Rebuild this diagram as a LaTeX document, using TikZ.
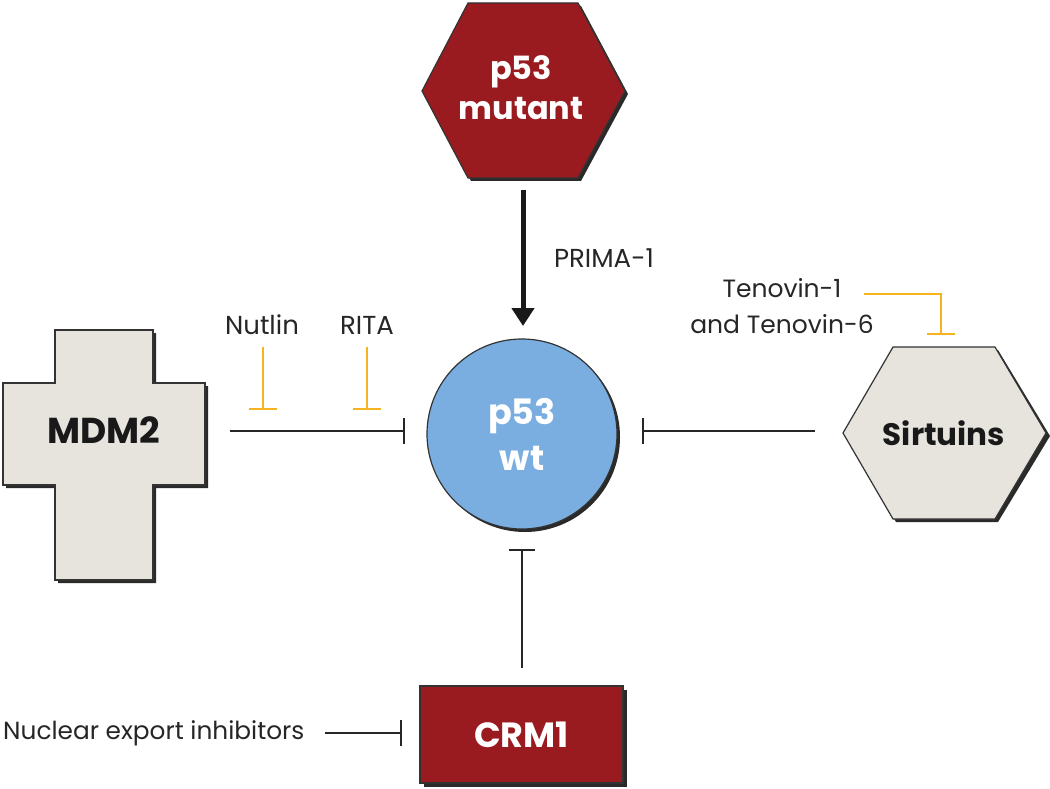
\documentclass[tikz,border=0pt]{standalone}
\usepackage{fontspec}
\setmainfont{Poppins}
\usetikzlibrary{arrows.meta}
\definecolor{dred}{HTML}{9A1B1F}
\definecolor{pblue}{HTML}{7AAEE0}
\definecolor{lgray}{HTML}{E7E4DD}
\definecolor{orng}{HTML}{F5B31F}
\definecolor{shad}{HTML}{2A2A2A}
\tikzset{
  lbl/.style={font=\fontsize{26}{31}\selectfont, text=black!85, inner sep=0pt},
  boxtxt/.style={font=\fontsize{34}{40}\selectfont\bfseries, inner sep=0pt, align=center},
  inh/.style={line width=2pt, draw=black!85, -{Bar[width=26pt,line width=2.5pt]}},
  oinh/.style={line width=2.5pt, draw=orng, -{Bar[width=28pt,line width=2.5pt]}},
  act/.style={line width=5pt, draw=black!90, -{Triangle[width=22pt,length=18pt]}},
  outl/.style={draw=black!80, line width=1.2pt}
}
\begin{document}
\begin{tikzpicture}[x=1pt,y=-1pt]
\useasboundingbox (0,0) rectangle (1050,789);
% p53 mutant hexagon
\fill[shad] (425,94) -- (471,6) -- (581,6) -- (628,94) -- (581,181) -- (471,181) -- cycle;
\filldraw[fill=dred, outl] (422,91) -- (468,3) -- (578,3) -- (625,91) -- (578,178) -- (468,178) -- cycle;
\node[boxtxt, text=white, font=\fontsize{32}{40}\selectfont\bfseries] (mut) at (521,88) {p53\\mutant};
% MDM2 cross
\fill[shad] (58,333) -- (156,333) -- (156,386) -- (208,386) -- (208,488) -- (156,488) -- (156,583) -- (58,583) -- (58,488) -- (6,488) -- (6,386) -- (58,386) -- cycle;
\filldraw[fill=lgray, outl] (55,330) -- (153,330) -- (153,383) -- (205,383) -- (205,485) -- (153,485) -- (153,580) -- (55,580) -- (55,485) -- (3,485) -- (3,383) -- (55,383) -- cycle;
\node[boxtxt, text=black!90, font=\fontsize{36}{40}\selectfont\bfseries] (mdm2) at (104,430) {MDM2};
% Sirtuins hexagon
\fill[shad] (846,436) -- (896,350) -- (998,350) -- (1050,436) -- (998,522) -- (896,522) -- cycle;
\filldraw[fill=lgray, outl] (843,433) -- (893,347) -- (995,347) -- (1046,433) -- (995,519) -- (893,519) -- cycle;
\node[boxtxt, text=black!90, font=\fontsize{31}{40}\selectfont\bfseries] (sirt) at (944,433) {Sirtuins};
% p53 wt circle
\fill[shad] (525,437) circle (95);
\node[circle, fill=pblue, outl, minimum size=190pt, inner sep=0pt, text=white, align=center, font=\fontsize{35}{46}\selectfont\bfseries] (wt) at (522,434) {p53\\wt};
% CRM1 box
\fill[shad] (424,690) rectangle (627,787);
\node[rectangle, fill=dred, outl, minimum width=203pt, minimum height=97pt, inner sep=0pt, text=white, font=\fontsize{35}{40}\selectfont\bfseries] (crm1) at (521.5,734.5) {CRM1};
% labels
\node[lbl] (prima) at (604,258) {PRIMA-1};
\node[lbl] (nutlin) at (262,325) {Nutlin};
\node[lbl] (rita) at (367,325) {RITA};
\node[lbl, align=center, font=\fontsize{25}{36}\selectfont] (teno) at (782,306) {Tenovin-1\\and Tenovin-6};
\node[lbl, anchor=west, font=\fontsize{24.8}{30}\selectfont] (nei) at (3,733) {Nuclear export inhibitors};
% coordinates
\coordinate (mutB) at (523,190);
\coordinate (mdmR) at (230,431);
\coordinate (sirL) at (815,431);
\coordinate (crmT) at (522,668);
\coordinate (neiR) at (325,733);
\coordinate (nutT) at (263,347);
\coordinate (nutB) at (263,410);
\coordinate (ritT) at (367,347);
\coordinate (ritB) at (367,410);
\coordinate (tenA) at (864,294);
\coordinate (tenC) at (941,294);
\coordinate (tenB) at (941,335);
% connectors
\draw[act] (mutB) -- (523,326);
\draw[inh, shorten >=21pt] (mdmR) -- (wt.west |- mdmR);
\draw[inh, shorten >=24pt] (sirL) -- (wt.east |- sirL);
\draw[inh, shorten >=19pt] (crmT) -- (wt.south);
\draw[inh, shorten >=17pt] (neiR) -- (crm1.west |- neiR);
\draw[oinh] (nutT) -- (nutB);
\draw[oinh] (ritT) -- (ritB);
\draw[oinh] (tenA) -- (tenC) -- (tenB);
\end{tikzpicture}
\end{document}
